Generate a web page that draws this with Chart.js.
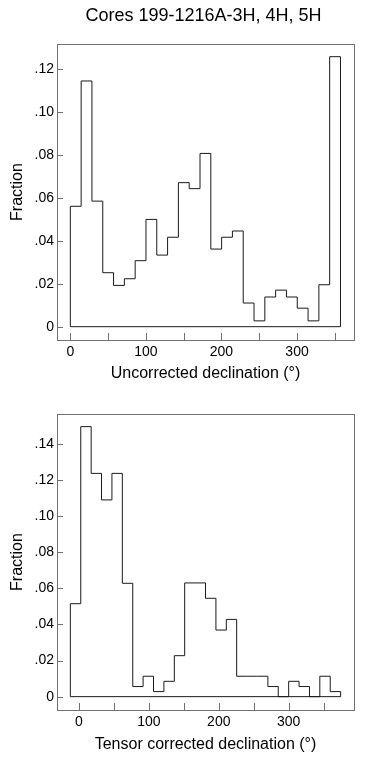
<!DOCTYPE html>
<html><head><meta charset="utf-8">
<script src="https://cdn.jsdelivr.net/npm/chart.js@4.4.1/dist/chart.umd.min.js"></script>
<style>
html,body{margin:0;padding:0;background:#fff;}
body{width:368px;height:765px;position:relative;overflow:hidden;font-family:'Liberation Sans',Arial,Helvetica,sans-serif;}
.box{position:absolute;left:0;width:368px;}
#title{position:absolute;left:0;top:5px;width:407px;text-align:center;font-size:18px;line-height:20px;color:#000;z-index:2;}
</style></head><body>
<div class="box" style="top:0;height:390px"><canvas id="c1" width="368" height="390"></canvas></div>
<div class="box" style="top:390px;height:375px"><canvas id="c2" width="368" height="375"></canvas></div>
<div id="title">Cores 199-1216A-3H, 4H, 5H</div>
<script>
// ---- data ----
const chartTitle = 'Cores 199-1216A-3H, 4H, 5H';
const yTitle = 'Fraction';
const topXTitle = 'Uncorrected declination (°)';
const bottomXTitle = 'Tensor corrected declination (°)';

const topBinEdges = [0, 14.3, 28.6, 42.9, 57.2, 71.5, 85.8, 100.1, 114.4, 128.7, 143.0, 157.3, 171.6, 185.9, 200.2, 214.5, 228.8, 243.1, 257.4, 271.7, 286.0, 300.3, 314.6, 328.9, 343.2, 357.5];
const topFractions = [0.0560, 0.1143, 0.0584, 0.0251, 0.0192, 0.0223, 0.0307, 0.0499, 0.0333, 0.0416, 0.0670, 0.0642, 0.0806, 0.0361, 0.0416, 0.0445, 0.0110, 0.0027, 0.0138, 0.0170, 0.0138, 0.0086, 0.0027, 0.0195, 0.1256];

const bottomBinEdges = [-12.4, 2.5, 17.4, 32.2, 47.1, 62.0, 76.9, 91.7, 106.6, 121.5, 136.4, 151.2, 166.1, 181.0, 195.9, 210.8, 225.6, 240.5, 255.4, 270.3, 285.1, 300.0, 314.9, 329.8, 344.6, 359.5, 374.4];
const bottomFractions = [0.0515, 0.1496, 0.1237, 0.1090, 0.1237, 0.0628, 0.0056, 0.0113, 0.0028, 0.0085, 0.0227, 0.0630, 0.0630, 0.0545, 0.0369, 0.0428, 0.0113, 0.0113, 0.0113, 0.0056, 0, 0.0085, 0.0056, 0, 0.0113, 0.0028];

const topXTicks = [0, 50, 100, 150, 200, 250, 300, 350];
const bottomXTicks = [0, 50, 100, 150, 200, 250, 300, 350];
const topYTicks = [0, 0.02, 0.04, 0.06, 0.08, 0.10, 0.12];
const bottomYTicks = [0, 0.02, 0.04, 0.06, 0.08, 0.10, 0.12, 0.14];
const topXRange = [-17.65, 375.4];
const topYRange = [-0.0062, 0.1315];
const bottomXRange = [-31.5, 393.5];
const bottomYRange = [-0.0074, 0.1566];

// ---- rendering ----
Chart.defaults.font.family = "'Liberation Sans', Arial, Helvetica, sans-serif";
Chart.defaults.color = '#000';

function outline(edges, values) {
  const pts = [{x: edges[0], y: 0}];
  values.forEach((v, i) => pts.push({x: edges[i], y: v}));
  pts.push({x: edges[edges.length - 1], y: 0});
  pts.push({x: edges[0], y: 0});
  return pts;
}

const frameTicks = {
  id: 'frameTicks',
  afterDraw(chart) {
    const {ctx, chartArea: a, scales: {x, y}} = chart;
    ctx.save();
    ctx.strokeStyle = '#707070';
    ctx.lineWidth = 1;
    ctx.strokeRect(Math.round(a.left) + 0.5, Math.round(a.top) + 0.5,
                   Math.round(a.right - a.left), Math.round(a.bottom - a.top));
    ctx.beginPath();
    x.ticks.forEach(t => {
      const px = Math.round(x.getPixelForValue(t.value)) + 0.5;
      ctx.moveTo(px, a.bottom); ctx.lineTo(px, a.bottom - 7);
    });
    y.ticks.forEach(t => {
      const py = Math.round(y.getPixelForValue(t.value)) + 0.5;
      ctx.moveTo(a.left, py); ctx.lineTo(a.left + 6, py);
    });
    ctx.stroke();
    ctx.restore();
  }
};

function makeChart(id, edges, values, xTicks, yTicks, xRange, yRange, xTitle, padTop, xAxisH, xTitlePad) {
  return new Chart(document.getElementById(id), {
    type: 'line',
    data: {datasets: [{
      data: outline(edges, values),
      borderColor: '#1a1a1a', borderWidth: 1, pointRadius: 0,
      stepped: true, fill: false, tension: 0
    }]},
    options: {
      responsive: false, animation: false, devicePixelRatio: 1,
      layout: {padding: {top: padTop, right: 14, bottom: 0, left: 0}},
      plugins: {legend: {display: false}, tooltip: {enabled: false}, title: {display: false}},
      scales: {
        x: {
          type: 'linear', min: xRange[0], max: xRange[1],
          grid: {display: false, drawTicks: false}, border: {display: false},
          afterBuildTicks: s => { s.ticks = xTicks.map(v => ({value: v})); },
          afterFit: s => { s.height = xAxisH; },
          ticks: {autoSkip: false, maxRotation: 0, minRotation: 0, padding: 3.5,
                  font: {size: 14}, color: '#000',
                  callback: v => (v % 100 === 0 ? String(v) : '')},
          title: {display: true, text: xTitle, font: {size: 16}, color: '#000',
                  padding: {top: 0, bottom: xTitlePad}}
        },
        y: {
          type: 'linear', min: yRange[0], max: yRange[1],
          grid: {display: false, drawTicks: false}, border: {display: false},
          afterBuildTicks: s => { s.ticks = yTicks.map(v => ({value: v})); },
          afterFit: s => { s.width = 57; },
          ticks: {autoSkip: false, padding: 3, font: {size: 14}, color: '#000',
                  callback: v => (v === 0 ? '0' : v.toFixed(2).replace(/^0/, ''))},
          title: {display: true, text: yTitle, font: {size: 16}, color: '#000',
                  padding: {top: 7.6, bottom: 0}}
        }
      }
    },
    plugins: [frameTicks]
  });
}

makeChart('c1', topBinEdges, topFractions, topXTicks, topYTicks, topXRange, topYRange, topXTitle, 44, 50, 7);
makeChart('c2', bottomBinEdges, bottomFractions, bottomXTicks, bottomYTicks, bottomXRange, bottomYRange, bottomXTitle, 24, 55, 11);
</script>
</body></html>
